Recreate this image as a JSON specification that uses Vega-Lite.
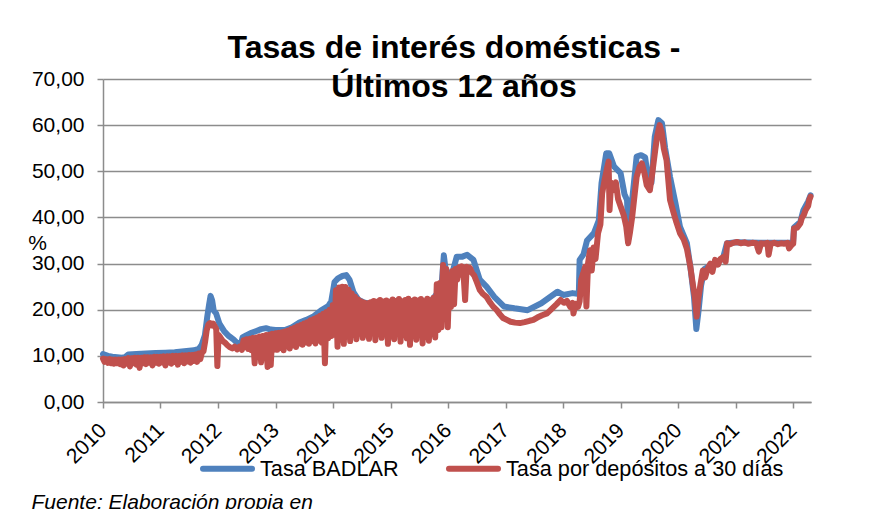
{
  "$schema": "https://vega.github.io/schema/vega-lite/v6.json",
  "width": 708,
  "height": 323,
  "autosize": {"type": "none"},
  "padding": {"left": 103, "top": 79, "right": 73, "bottom": 107},
  "background": "white",
  "config": {
    "font": "Liberation Sans",
    "view": {"stroke": null}
  },
  "title": {
    "text": ["Tasas de interés domésticas -", "Últimos 12 años"],
    "font": "Liberation Sans",
    "fontSize": 32,
    "fontWeight": "bold",
    "color": "black",
    "lineHeight": 39,
    "anchor": "middle",
    "frame": "group",
    "baseline": "alphabetic",
    "offset": -61,
    "dx": -3
  },
  "datasets": {
    "badlar": [
      {"d": "2010-01-01", "v": 10.4}, {"d": "2010-02-01", "v": 10.0}, {"d": "2010-03-01", "v": 9.8}, {"d": "2010-04-01", "v": 9.7},
      {"d": "2010-05-01", "v": 9.6}, {"d": "2010-05-20", "v": 9.7}, {"d": "2010-06-10", "v": 10.3}, {"d": "2010-08-01", "v": 10.4},
      {"d": "2010-10-01", "v": 10.5}, {"d": "2010-12-01", "v": 10.6}, {"d": "2011-02-01", "v": 10.7}, {"d": "2011-04-01", "v": 10.8},
      {"d": "2011-06-01", "v": 11.0}, {"d": "2011-08-01", "v": 11.2}, {"d": "2011-09-01", "v": 11.5}, {"d": "2011-09-20", "v": 12.4},
      {"d": "2011-10-10", "v": 14.5}, {"d": "2011-10-25", "v": 18.5}, {"d": "2011-11-05", "v": 21.0}, {"d": "2011-11-15", "v": 23.0},
      {"d": "2011-11-25", "v": 22.0}, {"d": "2011-12-05", "v": 19.8}, {"d": "2011-12-20", "v": 19.2}, {"d": "2012-01-10", "v": 17.0},
      {"d": "2012-02-10", "v": 15.3}, {"d": "2012-03-10", "v": 14.3}, {"d": "2012-04-10", "v": 13.5}, {"d": "2012-05-10", "v": 12.5},
      {"d": "2012-05-25", "v": 12.4}, {"d": "2012-06-05", "v": 14.0}, {"d": "2012-07-01", "v": 14.5}, {"d": "2012-08-01", "v": 15.0},
      {"d": "2012-09-01", "v": 15.4}, {"d": "2012-10-01", "v": 15.8}, {"d": "2012-11-01", "v": 16.0}, {"d": "2012-12-01", "v": 15.7},
      {"d": "2013-01-01", "v": 15.6}, {"d": "2013-03-01", "v": 15.6}, {"d": "2013-04-15", "v": 16.2}, {"d": "2013-06-01", "v": 17.2},
      {"d": "2013-07-15", "v": 17.8}, {"d": "2013-09-01", "v": 18.6}, {"d": "2013-10-15", "v": 19.8}, {"d": "2013-12-01", "v": 20.8},
      {"d": "2013-12-20", "v": 21.8}, {"d": "2014-01-10", "v": 26.0}, {"d": "2014-02-01", "v": 26.8}, {"d": "2014-03-01", "v": 27.3},
      {"d": "2014-03-25", "v": 27.5}, {"d": "2014-04-15", "v": 26.5}, {"d": "2014-05-10", "v": 23.8}, {"d": "2014-06-10", "v": 22.2},
      {"d": "2014-07-15", "v": 21.6}, {"d": "2014-09-01", "v": 21.2}, {"d": "2014-11-01", "v": 20.8}, {"d": "2015-01-01", "v": 20.6},
      {"d": "2015-04-01", "v": 20.6}, {"d": "2015-07-01", "v": 20.8}, {"d": "2015-09-01", "v": 21.2}, {"d": "2015-10-20", "v": 23.4},
      {"d": "2015-11-20", "v": 25.0}, {"d": "2015-12-05", "v": 31.8}, {"d": "2015-12-15", "v": 29.0}, {"d": "2016-01-01", "v": 27.9},
      {"d": "2016-01-15", "v": 27.2}, {"d": "2016-02-01", "v": 28.5}, {"d": "2016-02-25", "v": 31.5}, {"d": "2016-04-01", "v": 31.5},
      {"d": "2016-05-01", "v": 31.9}, {"d": "2016-06-10", "v": 30.8}, {"d": "2016-07-20", "v": 26.5}, {"d": "2016-09-01", "v": 25.0},
      {"d": "2016-10-20", "v": 22.8}, {"d": "2016-12-20", "v": 20.7}, {"d": "2017-02-25", "v": 20.3}, {"d": "2017-05-20", "v": 19.9},
      {"d": "2017-08-15", "v": 21.4}, {"d": "2017-11-25", "v": 23.9}, {"d": "2018-01-01", "v": 23.2}, {"d": "2018-03-01", "v": 23.6},
      {"d": "2018-04-10", "v": 23.4}, {"d": "2018-04-15", "v": 30.8}, {"d": "2018-05-10", "v": 32.0}, {"d": "2018-06-01", "v": 35.0},
      {"d": "2018-07-15", "v": 36.6}, {"d": "2018-08-15", "v": 39.4}, {"d": "2018-09-01", "v": 47.4}, {"d": "2018-10-01", "v": 53.9},
      {"d": "2018-10-20", "v": 53.9}, {"d": "2018-11-20", "v": 51.0}, {"d": "2018-12-31", "v": 49.6}, {"d": "2019-01-25", "v": 45.0},
      {"d": "2019-02-10", "v": 43.8}, {"d": "2019-02-20", "v": 35.5}, {"d": "2019-03-10", "v": 42.3}, {"d": "2019-04-12", "v": 53.2},
      {"d": "2019-05-10", "v": 53.5}, {"d": "2019-06-05", "v": 53.0}, {"d": "2019-06-25", "v": 48.1}, {"d": "2019-07-15", "v": 47.5},
      {"d": "2019-08-05", "v": 57.5}, {"d": "2019-08-28", "v": 61.1}, {"d": "2019-09-20", "v": 60.4}, {"d": "2019-10-10", "v": 55.0},
      {"d": "2019-11-10", "v": 48.8}, {"d": "2019-12-15", "v": 43.0}, {"d": "2020-01-12", "v": 38.0}, {"d": "2020-02-25", "v": 34.4},
      {"d": "2020-03-18", "v": 29.3}, {"d": "2020-04-10", "v": 22.8}, {"d": "2020-04-25", "v": 15.8}, {"d": "2020-05-10", "v": 20.0},
      {"d": "2020-05-25", "v": 25.2}, {"d": "2020-06-15", "v": 28.8}, {"d": "2020-07-25", "v": 29.6}, {"d": "2020-10-10", "v": 31.0},
      {"d": "2020-11-05", "v": 34.4}, {"d": "2021-01-08", "v": 34.6}, {"d": "2021-06-01", "v": 34.5}, {"d": "2021-12-30", "v": 34.5},
      {"d": "2022-01-05", "v": 37.8}, {"d": "2022-02-14", "v": 39.0}, {"d": "2022-03-05", "v": 41.5}, {"d": "2022-04-05", "v": 43.5},
      {"d": "2022-04-20", "v": 44.8}
    ],
    "dep30": [
      {"d": "2010-01-01", "v": 9.4}, {"d": "2010-01-11", "v": 8.7}, {"d": "2010-01-21", "v": 9.3}, {"d": "2010-02-01", "v": 8.5},
      {"d": "2010-02-11", "v": 9.3}, {"d": "2010-02-21", "v": 8.4}, {"d": "2010-03-01", "v": 9.2}, {"d": "2010-03-11", "v": 8.3},
      {"d": "2010-03-21", "v": 9.2}, {"d": "2010-04-01", "v": 8.4}, {"d": "2010-04-11", "v": 9.2}, {"d": "2010-04-21", "v": 8.2},
      {"d": "2010-05-01", "v": 9.2}, {"d": "2010-05-11", "v": 7.9}, {"d": "2010-05-21", "v": 9.3}, {"d": "2010-06-01", "v": 8.3},
      {"d": "2010-06-11", "v": 9.5}, {"d": "2010-06-21", "v": 7.7}, {"d": "2010-07-01", "v": 9.5}, {"d": "2010-07-11", "v": 8.4},
      {"d": "2010-07-21", "v": 9.6}, {"d": "2010-08-01", "v": 8.1}, {"d": "2010-08-11", "v": 9.6}, {"d": "2010-08-21", "v": 7.4},
      {"d": "2010-09-01", "v": 9.6}, {"d": "2010-09-11", "v": 8.4}, {"d": "2010-09-21", "v": 9.7}, {"d": "2010-10-01", "v": 8.2},
      {"d": "2010-10-11", "v": 9.7}, {"d": "2010-10-21", "v": 8.5}, {"d": "2010-11-01", "v": 9.7}, {"d": "2010-11-11", "v": 7.9},
      {"d": "2010-11-21", "v": 9.8}, {"d": "2010-12-01", "v": 8.5}, {"d": "2010-12-11", "v": 9.8}, {"d": "2010-12-21", "v": 8.3},
      {"d": "2011-01-01", "v": 9.8}, {"d": "2011-01-11", "v": 8.6}, {"d": "2011-01-21", "v": 9.9}, {"d": "2011-02-01", "v": 7.9},
      {"d": "2011-02-11", "v": 9.9}, {"d": "2011-02-21", "v": 8.6}, {"d": "2011-03-01", "v": 9.9}, {"d": "2011-03-11", "v": 8.3},
      {"d": "2011-03-21", "v": 10.0}, {"d": "2011-04-01", "v": 8.7}, {"d": "2011-04-11", "v": 10.0}, {"d": "2011-04-21", "v": 8.1},
      {"d": "2011-05-01", "v": 10.0}, {"d": "2011-05-11", "v": 8.7}, {"d": "2011-05-21", "v": 10.1}, {"d": "2011-06-01", "v": 8.4},
      {"d": "2011-06-11", "v": 10.1}, {"d": "2011-06-21", "v": 8.8}, {"d": "2011-07-01", "v": 10.2}, {"d": "2011-07-11", "v": 8.5},
      {"d": "2011-07-21", "v": 10.2}, {"d": "2011-08-01", "v": 8.9}, {"d": "2011-08-11", "v": 10.3}, {"d": "2011-08-21", "v": 8.7},
      {"d": "2011-09-01", "v": 10.5}, {"d": "2011-09-11", "v": 9.3}, {"d": "2011-09-21", "v": 10.7}, {"d": "2011-10-01", "v": 11.0},
      {"d": "2011-10-11", "v": 13.0}, {"d": "2011-10-21", "v": 15.5}, {"d": "2011-11-01", "v": 16.8}, {"d": "2011-11-11", "v": 17.1},
      {"d": "2011-11-21", "v": 16.6}, {"d": "2011-12-01", "v": 17.0}, {"d": "2011-12-11", "v": 16.4}, {"d": "2011-12-21", "v": 15.8},
      {"d": "2011-12-28", "v": 7.8}, {"d": "2012-01-05", "v": 14.5}, {"d": "2012-01-16", "v": 14.0}, {"d": "2012-02-01", "v": 13.2},
      {"d": "2012-02-16", "v": 12.8}, {"d": "2012-03-01", "v": 12.3}, {"d": "2012-03-16", "v": 11.9}, {"d": "2012-04-01", "v": 11.6},
      {"d": "2012-04-16", "v": 12.0}, {"d": "2012-05-01", "v": 11.4}, {"d": "2012-05-16", "v": 12.0}, {"d": "2012-06-01", "v": 11.3},
      {"d": "2012-06-11", "v": 13.4}, {"d": "2012-06-21", "v": 11.9}, {"d": "2012-07-01", "v": 13.6}, {"d": "2012-07-11", "v": 11.5},
      {"d": "2012-07-21", "v": 13.7}, {"d": "2012-08-01", "v": 11.2}, {"d": "2012-08-11", "v": 13.9}, {"d": "2012-08-21", "v": 8.4},
      {"d": "2012-09-01", "v": 14.0}, {"d": "2012-09-11", "v": 11.0}, {"d": "2012-09-21", "v": 14.2}, {"d": "2012-10-01", "v": 8.6},
      {"d": "2012-10-11", "v": 14.3}, {"d": "2012-10-21", "v": 11.4}, {"d": "2012-11-01", "v": 14.5}, {"d": "2012-11-11", "v": 7.6},
      {"d": "2012-11-21", "v": 14.6}, {"d": "2012-12-01", "v": 8.0}, {"d": "2012-12-11", "v": 14.8}, {"d": "2012-12-21", "v": 11.3},
      {"d": "2013-01-01", "v": 14.9}, {"d": "2013-01-11", "v": 11.3}, {"d": "2013-01-21", "v": 15.0}, {"d": "2013-02-01", "v": 11.7},
      {"d": "2013-02-11", "v": 15.1}, {"d": "2013-02-21", "v": 11.2}, {"d": "2013-03-01", "v": 15.3}, {"d": "2013-03-11", "v": 12.1},
      {"d": "2013-03-21", "v": 15.5}, {"d": "2013-04-01", "v": 11.6}, {"d": "2013-04-11", "v": 15.8}, {"d": "2013-04-21", "v": 12.3},
      {"d": "2013-05-01", "v": 16.1}, {"d": "2013-05-11", "v": 11.9}, {"d": "2013-05-21", "v": 16.4}, {"d": "2013-06-01", "v": 12.7},
      {"d": "2013-06-11", "v": 16.7}, {"d": "2013-06-21", "v": 12.4}, {"d": "2013-07-01", "v": 17.0}, {"d": "2013-07-11", "v": 12.9},
      {"d": "2013-07-21", "v": 17.3}, {"d": "2013-08-01", "v": 12.6}, {"d": "2013-08-11", "v": 17.7}, {"d": "2013-08-21", "v": 13.2},
      {"d": "2013-09-01", "v": 18.0}, {"d": "2013-09-11", "v": 12.7}, {"d": "2013-09-21", "v": 18.3}, {"d": "2013-10-01", "v": 13.3},
      {"d": "2013-10-11", "v": 18.7}, {"d": "2013-10-21", "v": 12.9}, {"d": "2013-10-31", "v": 19.1}, {"d": "2013-11-10", "v": 8.4},
      {"d": "2013-11-20", "v": 19.5}, {"d": "2013-11-30", "v": 13.8}, {"d": "2013-12-10", "v": 20.0}, {"d": "2013-12-20", "v": 14.3},
      {"d": "2013-12-30", "v": 21.0}, {"d": "2014-01-09", "v": 14.6}, {"d": "2014-01-19", "v": 24.2}, {"d": "2014-01-29", "v": 12.0},
      {"d": "2014-02-08", "v": 24.8}, {"d": "2014-02-18", "v": 13.5}, {"d": "2014-02-28", "v": 25.0}, {"d": "2014-03-10", "v": 12.6},
      {"d": "2014-03-20", "v": 24.9}, {"d": "2014-03-30", "v": 14.2}, {"d": "2014-04-09", "v": 24.3}, {"d": "2014-04-19", "v": 13.2},
      {"d": "2014-04-29", "v": 23.5}, {"d": "2014-05-09", "v": 14.5}, {"d": "2014-05-19", "v": 22.8}, {"d": "2014-05-29", "v": 13.6},
      {"d": "2014-06-08", "v": 22.2}, {"d": "2014-06-18", "v": 14.8}, {"d": "2014-06-28", "v": 21.8}, {"d": "2014-07-08", "v": 13.9},
      {"d": "2014-07-18", "v": 21.5}, {"d": "2014-07-28", "v": 14.6}, {"d": "2014-08-07", "v": 21.4}, {"d": "2014-08-17", "v": 13.7},
      {"d": "2014-08-27", "v": 21.6}, {"d": "2014-09-06", "v": 14.9}, {"d": "2014-09-16", "v": 21.9}, {"d": "2014-09-26", "v": 13.4},
      {"d": "2014-10-06", "v": 21.7}, {"d": "2014-10-16", "v": 14.7}, {"d": "2014-10-26", "v": 22.1}, {"d": "2014-11-05", "v": 13.9},
      {"d": "2014-11-15", "v": 21.8}, {"d": "2014-11-25", "v": 15.1}, {"d": "2014-12-05", "v": 22.0}, {"d": "2014-12-15", "v": 12.6},
      {"d": "2014-12-25", "v": 21.7}, {"d": "2015-01-04", "v": 14.2}, {"d": "2015-01-14", "v": 22.2}, {"d": "2015-01-24", "v": 13.6},
      {"d": "2015-02-03", "v": 21.9}, {"d": "2015-02-13", "v": 14.8}, {"d": "2015-02-23", "v": 22.3}, {"d": "2015-03-05", "v": 13.1},
      {"d": "2015-03-15", "v": 21.8}, {"d": "2015-03-25", "v": 14.5}, {"d": "2015-04-04", "v": 22.1}, {"d": "2015-04-14", "v": 13.8},
      {"d": "2015-04-24", "v": 22.4}, {"d": "2015-05-04", "v": 12.4}, {"d": "2015-05-14", "v": 21.9}, {"d": "2015-05-24", "v": 14.4},
      {"d": "2015-06-03", "v": 22.2}, {"d": "2015-06-13", "v": 13.5}, {"d": "2015-06-23", "v": 22.0}, {"d": "2015-07-03", "v": 14.6},
      {"d": "2015-07-13", "v": 22.3}, {"d": "2015-07-23", "v": 12.7}, {"d": "2015-08-02", "v": 21.8}, {"d": "2015-08-12", "v": 14.1},
      {"d": "2015-08-22", "v": 22.4}, {"d": "2015-09-01", "v": 13.3}, {"d": "2015-09-11", "v": 22.0}, {"d": "2015-09-21", "v": 14.7},
      {"d": "2015-10-01", "v": 22.6}, {"d": "2015-10-11", "v": 14.0}, {"d": "2015-10-21", "v": 25.5}, {"d": "2015-10-31", "v": 15.6},
      {"d": "2015-11-10", "v": 25.8}, {"d": "2015-11-20", "v": 16.2}, {"d": "2015-11-30", "v": 29.7}, {"d": "2015-12-10", "v": 20.5},
      {"d": "2015-12-20", "v": 28.8}, {"d": "2015-12-30", "v": 16.2}, {"d": "2016-01-09", "v": 27.5}, {"d": "2016-01-19", "v": 20.6},
      {"d": "2016-01-29", "v": 28.4}, {"d": "2016-02-08", "v": 21.2}, {"d": "2016-02-18", "v": 28.8}, {"d": "2016-02-28", "v": 26.5},
      {"d": "2016-03-09", "v": 29.2}, {"d": "2016-03-19", "v": 27.6}, {"d": "2016-03-29", "v": 29.4}, {"d": "2016-04-08", "v": 27.8},
      {"d": "2016-04-18", "v": 22.1}, {"d": "2016-04-28", "v": 29.3}, {"d": "2016-05-08", "v": 28.2}, {"d": "2016-05-18", "v": 29.1},
      {"d": "2016-06-01", "v": 28.0}, {"d": "2016-06-15", "v": 27.4}, {"d": "2016-07-01", "v": 26.0}, {"d": "2016-07-20", "v": 24.3},
      {"d": "2016-08-10", "v": 23.4}, {"d": "2016-09-01", "v": 22.8}, {"d": "2016-09-25", "v": 21.5}, {"d": "2016-10-15", "v": 20.6},
      {"d": "2016-11-05", "v": 19.9}, {"d": "2016-11-25", "v": 19.0}, {"d": "2016-12-15", "v": 18.2}, {"d": "2017-01-08", "v": 17.8},
      {"d": "2017-02-01", "v": 17.4}, {"d": "2017-03-01", "v": 17.2}, {"d": "2017-04-01", "v": 17.1}, {"d": "2017-05-01", "v": 17.3},
      {"d": "2017-06-01", "v": 17.6}, {"d": "2017-06-25", "v": 17.8}, {"d": "2017-07-20", "v": 18.3}, {"d": "2017-08-20", "v": 18.8},
      {"d": "2017-09-20", "v": 19.2}, {"d": "2017-10-20", "v": 20.2}, {"d": "2017-11-20", "v": 21.2}, {"d": "2017-12-15", "v": 22.1},
      {"d": "2018-01-05", "v": 21.5}, {"d": "2018-01-25", "v": 21.9}, {"d": "2018-02-15", "v": 20.6}, {"d": "2018-03-01", "v": 21.5},
      {"d": "2018-03-07", "v": 19.2}, {"d": "2018-03-20", "v": 21.3}, {"d": "2018-04-05", "v": 20.6}, {"d": "2018-04-15", "v": 21.8},
      {"d": "2018-04-25", "v": 26.5}, {"d": "2018-05-08", "v": 27.9}, {"d": "2018-05-20", "v": 29.3}, {"d": "2018-05-28", "v": 20.7},
      {"d": "2018-06-08", "v": 30.2}, {"d": "2018-06-20", "v": 32.9}, {"d": "2018-07-01", "v": 28.5}, {"d": "2018-07-13", "v": 33.5},
      {"d": "2018-07-25", "v": 31.0}, {"d": "2018-08-10", "v": 36.6}, {"d": "2018-08-25", "v": 38.5}, {"d": "2018-09-05", "v": 45.2},
      {"d": "2018-09-20", "v": 48.0}, {"d": "2018-10-05", "v": 50.5}, {"d": "2018-10-16", "v": 52.1}, {"d": "2018-10-22", "v": 41.6},
      {"d": "2018-11-01", "v": 47.5}, {"d": "2018-11-15", "v": 45.9}, {"d": "2018-12-01", "v": 47.6}, {"d": "2018-12-15", "v": 44.0},
      {"d": "2019-01-01", "v": 42.3}, {"d": "2019-01-20", "v": 40.5}, {"d": "2019-02-05", "v": 38.0}, {"d": "2019-02-17", "v": 34.4},
      {"d": "2019-03-01", "v": 36.8}, {"d": "2019-03-15", "v": 40.2}, {"d": "2019-04-01", "v": 45.5}, {"d": "2019-04-12", "v": 48.8},
      {"d": "2019-05-01", "v": 51.0}, {"d": "2019-05-15", "v": 51.7}, {"d": "2019-06-01", "v": 49.5}, {"d": "2019-06-15", "v": 47.0},
      {"d": "2019-07-05", "v": 45.9}, {"d": "2019-07-20", "v": 49.5}, {"d": "2019-08-08", "v": 54.6}, {"d": "2019-08-20", "v": 57.5},
      {"d": "2019-09-05", "v": 60.0}, {"d": "2019-09-18", "v": 58.5}, {"d": "2019-10-01", "v": 55.0}, {"d": "2019-10-19", "v": 52.4},
      {"d": "2019-11-10", "v": 43.8}, {"d": "2019-12-01", "v": 41.2}, {"d": "2019-12-20", "v": 39.0}, {"d": "2020-01-12", "v": 36.6},
      {"d": "2020-02-05", "v": 35.2}, {"d": "2020-02-25", "v": 33.2}, {"d": "2020-03-18", "v": 29.3}, {"d": "2020-04-05", "v": 25.0},
      {"d": "2020-04-15", "v": 22.8}, {"d": "2020-04-27", "v": 18.5}, {"d": "2020-05-08", "v": 22.5}, {"d": "2020-05-19", "v": 25.0},
      {"d": "2020-06-05", "v": 28.5}, {"d": "2020-06-20", "v": 27.0}, {"d": "2020-07-05", "v": 28.8}, {"d": "2020-07-23", "v": 30.0},
      {"d": "2020-08-05", "v": 28.2}, {"d": "2020-08-22", "v": 30.8}, {"d": "2020-09-10", "v": 29.8}, {"d": "2020-09-25", "v": 31.0},
      {"d": "2020-10-16", "v": 31.5}, {"d": "2020-10-28", "v": 30.4}, {"d": "2020-11-07", "v": 34.4}, {"d": "2020-11-25", "v": 34.2},
      {"d": "2020-12-15", "v": 34.5}, {"d": "2021-01-08", "v": 34.7}, {"d": "2021-02-01", "v": 34.4}, {"d": "2021-02-25", "v": 34.6},
      {"d": "2021-03-20", "v": 34.3}, {"d": "2021-04-15", "v": 34.5}, {"d": "2021-05-10", "v": 34.4}, {"d": "2021-05-27", "v": 32.6},
      {"d": "2021-06-10", "v": 34.4}, {"d": "2021-07-01", "v": 34.3}, {"d": "2021-07-20", "v": 34.5}, {"d": "2021-07-28", "v": 31.9},
      {"d": "2021-08-10", "v": 34.3}, {"d": "2021-09-01", "v": 34.5}, {"d": "2021-09-25", "v": 34.2}, {"d": "2021-10-15", "v": 34.4},
      {"d": "2021-11-05", "v": 34.3}, {"d": "2021-11-25", "v": 34.5}, {"d": "2021-12-05", "v": 33.3}, {"d": "2021-12-20", "v": 34.0},
      {"d": "2021-12-31", "v": 34.3}, {"d": "2022-01-05", "v": 37.6}, {"d": "2022-01-25", "v": 37.8}, {"d": "2022-02-14", "v": 38.7},
      {"d": "2022-02-25", "v": 40.0}, {"d": "2022-03-08", "v": 40.5}, {"d": "2022-03-20", "v": 41.6}, {"d": "2022-04-05", "v": 42.5},
      {"d": "2022-04-12", "v": 43.8}, {"d": "2022-04-20", "v": 44.5}
    ]
  },
  "encoding": {
    "x": {
      "field": "d",
      "type": "temporal",
      "scale": {"domain": ["2010-01-01", "2022-04-23"]},
      "axis": {
        "title": "Fuente: Elaboración propia en",
        "titleX": -72,
        "titleY": 106,
        "titleAlign": "left",
        "titleAnchor": "start",
        "titleBaseline": "alphabetic",
        "titleFontStyle": "italic",
        "titleFontWeight": "normal",
        "titleFontSize": 21,
        "titleColor": "black",
        "format": "%Y",
        "tickCount": {"interval": "year", "step": 1},
        "labelAngle": -45,
        "labelAlign": "right",
        "labelBaseline": "middle",
        "labelPadding": 19,
        "labelFontSize": 21,
        "labelColor": "black",
        "labelOverlap": false,
        "labelFlush": false,
        "tickSize": 6,
        "tickColor": "#8c8c8c",
        "tickWidth": 1.5,
        "domainColor": "#8c8c8c",
        "domainWidth": 1.5,
        "grid": false
      }
    },
    "y": {
      "field": "v",
      "type": "quantitative",
      "scale": {"domain": [0, 70], "nice": false},
      "axis": {
        "title": "%",
        "titleAngle": 0,
        "titleX": -66,
        "titleY": 170,
        "titleAlign": "center",
        "titleBaseline": "alphabetic",
        "titleFontWeight": "normal",
        "titleFontSize": 21,
        "titleColor": "black",
        "values": [0, 10, 20, 30, 40, 50, 60, 70],
        "labelExpr": "replace(format(datum.value, '.2f'), '.', ',')",
        "labelFontSize": 21,
        "labelColor": "black",
        "labelPadding": 13,
        "tickSize": 6,
        "tickColor": "#8c8c8c",
        "tickWidth": 1.5,
        "domainColor": "#8c8c8c",
        "domainWidth": 1.5,
        "grid": true,
        "gridColor": "#8c8c8c",
        "gridWidth": 1.5
      }
    }
  },
  "layer": [
    {
      "data": {"name": "badlar"},
      "mark": {"type": "line", "strokeWidth": 6, "strokeCap": "round", "strokeJoin": "round"},
      "encoding": {
        "color": {
          "datum": "Tasa BADLAR",
          "scale": {"domain": ["Tasa BADLAR", "Tasa por depósitos a 30 días"], "range": ["#4F81BD", "#C0504D"]},
          "legend": {
            "orient": "none",
            "legendX": 97,
            "legendY": 362,
            "direction": "horizontal",
            "title": null,
            "symbolType": "stroke",
            "symbolSize": 2401,
            "symbolStrokeWidth": 6,
            "labelFontSize": 21.7,
            "labelColor": "black",
            "labelOffset": 5,
            "labelLimit": 400,
            "columnPadding": 38,
            "padding": 0,
            "encode": {"symbols": {"update": {"strokeCap": {"value": "round"}}}}
          }
        }
      }
    },
    {
      "data": {"name": "dep30"},
      "mark": {"type": "line", "strokeWidth": 6, "strokeCap": "round", "strokeJoin": "round"},
      "encoding": {
        "color": {"datum": "Tasa por depósitos a 30 días"}
      }
    }
  ]
}
